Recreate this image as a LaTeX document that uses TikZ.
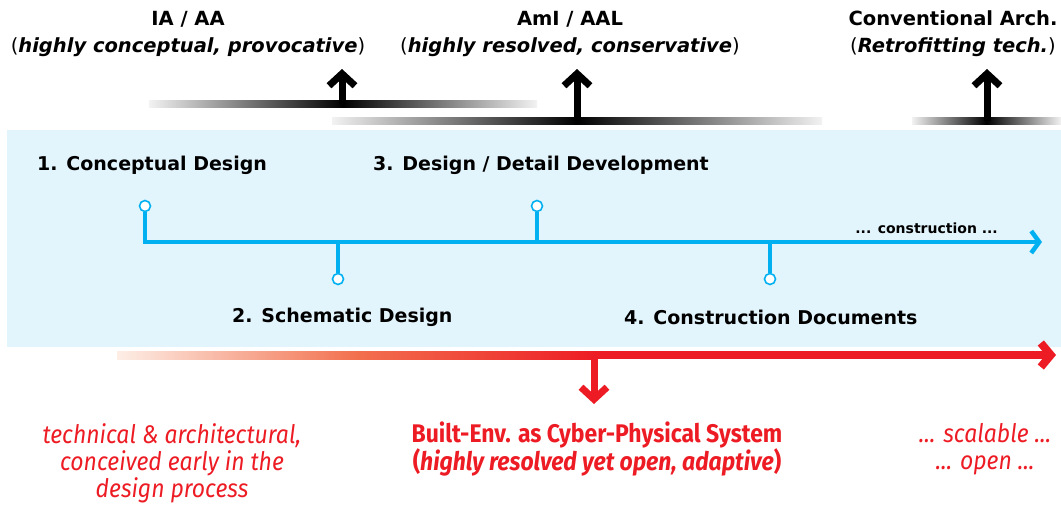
\documentclass[tikz,border=0pt]{standalone}
\usepackage{fontspec}
\setmainfont{DejaVu Sans}
\newfontfamily\condfont[FakeStretch=0.9]{Fira Sans}
\usetikzlibrary{arrows.meta,positioning}
\definecolor{tlblue}{HTML}{00B0F0}
\definecolor{boxblue}{HTML}{E3F5FC}
\definecolor{cpsred}{HTML}{ED1C24}
\definecolor{peach}{HTML}{FDEEE6}
\definecolor{coral}{HTML}{F2704E}
\tikzset{
  phase/.style={inner sep=0pt, font=\fontsize{19}{24}\selectfont\bfseries},
  stopdot/.style={circle, draw=tlblue, fill=white, line width=1.6pt, minimum size=11pt, inner sep=0pt},
  toplabel/.style={inner sep=0pt, align=center, font=\fontsize{19.5}{27}\selectfont},
  redlabel/.style={inner sep=0pt, align=center, text=cpsred, font=\condfont\fontsize{25.5}{27}\selectfont},
  uparrow/.style={line width=7pt, -{Straight Barb[length=12pt,width=26pt]}},
  graybar/.style={left color=gray!10, right color=gray!10, middle color=black},
}
\begin{document}
\begin{tikzpicture}[x=1pt,y=-1pt]
  \useasboundingbox (0,0) rectangle (1061,504);
  % blue phase box
  \fill[boxblue] (7,130) rectangle (1061,347);
  % top: approaches
  \node[toplabel] (iaaa) at (188,34) {\textbf{IA / AA}\\(\textbf{\textit{highly conceptual, provocative}})};
  \node[toplabel] (amiaal) at (570,34) {\textbf{AmI / AAL}\\(\textbf{\textit{highly resolved, conservative}})};
  \node[toplabel] (conv) at (953,34) {\textbf{Conventional Arch.}\\(\textbf{\textit{Retrofitting tech.}})};
  \shade[graybar] (149,100) rectangle (537,107);
  \shade[graybar] (332,117) rectangle (822,124);
  \shade[graybar] (912,117) rectangle (1061,124);
  \coordinate (b1) at (342,104);
  \coordinate (b2) at (577,121);
  \coordinate (b3) at (987,121);
  \coordinate (a1) at (342,69);
  \coordinate (a2) at (577,69);
  \coordinate (a3) at (987,69);
  \draw[uparrow] (b1) -- (a1);
  \draw[uparrow] (b2) -- (a2);
  \draw[uparrow] (b3) -- (a3);
  % timeline
  \coordinate (tend) at (1042,242);
  \node[stopdot] (s1) at (145,206) {};
  \node[stopdot] (s2) at (338,279) {};
  \node[stopdot] (s3) at (537,206) {};
  \node[stopdot] (s4) at (770,279) {};
  \draw[tlblue, line width=4.5pt, -{Straight Barb[length=8pt,width=22pt]}] (s1) |- (tend);
  \draw[tlblue, line width=4pt] (s2) -- (s2 |- tend);
  \draw[tlblue, line width=4pt] (s3) -- (s3 |- tend);
  \draw[tlblue, line width=4pt] (s4) -- (s4 |- tend);
  \node[phase, anchor=west] (p1) at (37,165) {1. Conceptual Design};
  \node[phase, anchor=west] (p3) at (373,165) {3. Design / Detail Development};
  \node[phase, anchor=west] (p2) at (232,317) {2. Schematic Design};
  \node[phase, anchor=west] (p4) at (624,317) {4. Construction Documents};
  \node[inner sep=0pt, anchor=east, font=\fontsize{14}{16}\selectfont\bfseries] (cons) at (998,228) {... construction ...};
  % red arrow: cyber-physical
  \shade[left color=peach, right color=cpsred, middle color=coral] (117,351) rectangle (596,359);
  \coordinate (r0) at (594,355);
  \coordinate (rend) at (1056,355);
  \coordinate (rdown) at (594,404);
  \draw[cpsred, line width=8pt, -{Straight Barb[length=10pt,width=24pt]}] (r0) -- (rend);
  \draw[cpsred, uparrow] (r0) -- (rdown);
  \node[redlabel] (tech) at (172,463) {\itshape technical \& architectural,\\\itshape conceived early in the\\\itshape design process};
  \node[redlabel] (cps) at (597,449) {\bfseries Built-Env. as Cyber-Physical System\\\bfseries(\textit{highly resolved yet open, adaptive})};
  \node[redlabel] (scal) at (985,449) {\itshape ... scalable ...\\\itshape ... open ...};
\end{tikzpicture}
\end{document}
